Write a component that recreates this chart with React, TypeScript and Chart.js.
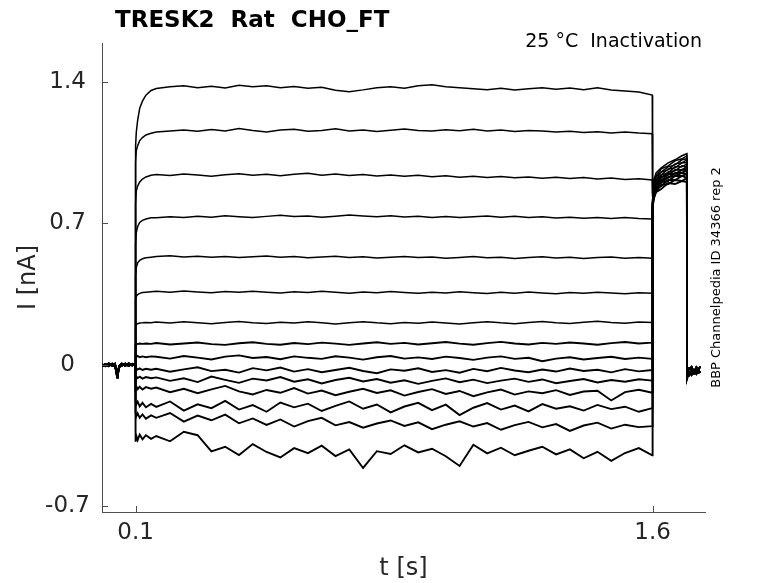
import React, { useEffect, useRef } from 'react';
import Chart from 'chart.js/auto';

// axis ticks
const xTicks = [0.1, 1.6];
const yTicks = [1.4, 0.7, 0, -0.7];

// holding segment before the step
const tPre = [0.003, 0.012, 0.022, 0.032, 0.04, 0.044, 0.0465, 0.049, 0.053, 0.06, 0.07, 0.08, 0.09, 0.0995];
const preA = [0.003, -0.006, 0.007, -0.004, 0.005, -0.02, -0.056, -0.03, -0.004, 0.006, -0.005, 0.007, -0.003, 0.004];
const preB = [-0.007, 0.004, -0.006, 0.006, -0.008, -0.03, -0.062, -0.042, -0.01, -0.004, 0.006, -0.005, 0.005, -0.005];

// step segment 0.1 .. 1.6 s
const tStep = [0.1, 0.102, 0.106, 0.112, 0.12, 0.13, 0.145, 0.16, 0.2, 0.24, 0.28, 0.32, 0.36, 0.4, 0.44, 0.48, 0.52, 0.56, 0.6, 0.64, 0.68, 0.72, 0.76, 0.8, 0.84, 0.88, 0.92, 0.96, 1.0, 1.04, 1.08, 1.12, 1.16, 1.2, 1.24, 1.28, 1.32, 1.36, 1.4, 1.44, 1.48, 1.52, 1.56, 1.599];
const step01 = [1.08, 1.15, 1.21, 1.27, 1.305, 1.335, 1.358, 1.368, 1.376, 1.381, 1.372, 1.379, 1.370, 1.384, 1.376, 1.381, 1.371, 1.378, 1.369, 1.374, 1.359, 1.352, 1.361, 1.372, 1.376, 1.369, 1.381, 1.386, 1.376, 1.371, 1.366, 1.362, 1.369, 1.360, 1.366, 1.372, 1.364, 1.370, 1.362, 1.371, 1.360, 1.356, 1.350, 1.335];
const step02 = [1.0, 1.06, 1.085, 1.11, 1.125, 1.138, 1.146, 1.152, 1.158, 1.163, 1.156, 1.165, 1.158, 1.170, 1.160, 1.153, 1.162, 1.166, 1.156, 1.160, 1.168, 1.158, 1.163, 1.155, 1.161, 1.167, 1.160, 1.157, 1.164, 1.159, 1.166, 1.158, 1.162, 1.155, 1.160, 1.158, 1.152, 1.156, 1.150, 1.154, 1.148, 1.152, 1.147, 1.144];
const step03 = [0.80, 0.86, 0.885, 0.905, 0.92, 0.93, 0.938, 0.942, 0.937, 0.945, 0.940, 0.934, 0.941, 0.946, 0.938, 0.943, 0.936, 0.944, 0.948, 0.939, 0.945, 0.937, 0.942, 0.935, 0.940, 0.933, 0.938, 0.931, 0.936, 0.929, 0.934, 0.927, 0.932, 0.926, 0.930, 0.924, 0.929, 0.922, 0.927, 0.920, 0.925, 0.918, 0.921, 0.915];
const step04 = [0.60, 0.655, 0.685, 0.705, 0.715, 0.722, 0.728, 0.728, 0.733, 0.729, 0.736, 0.731, 0.738, 0.733, 0.729, 0.735, 0.740, 0.734, 0.737, 0.731, 0.736, 0.742, 0.737, 0.733, 0.738, 0.732, 0.736, 0.730, 0.734, 0.729, 0.733, 0.737, 0.731, 0.735, 0.729, 0.733, 0.727, 0.731, 0.726, 0.730, 0.725, 0.729, 0.724, 0.722];
const step05 = [0.44, 0.48, 0.505, 0.518, 0.525, 0.53, 0.533, 0.536, 0.540, 0.534, 0.538, 0.533, 0.537, 0.531, 0.535, 0.539, 0.533, 0.536, 0.530, 0.534, 0.538, 0.532, 0.535, 0.529, 0.533, 0.537, 0.531, 0.534, 0.528, 0.532, 0.536, 0.530, 0.533, 0.527, 0.531, 0.535, 0.529, 0.533, 0.527, 0.531, 0.534, 0.528, 0.531, 0.528];
const step06 = [0.32, 0.338, 0.348, 0.354, 0.358, 0.36, 0.362, 0.364, 0.360, 0.366, 0.361, 0.357, 0.363, 0.359, 0.365, 0.360, 0.356, 0.362, 0.358, 0.364, 0.359, 0.355, 0.361, 0.357, 0.363, 0.358, 0.354, 0.360, 0.356, 0.362, 0.357, 0.353, 0.359, 0.355, 0.361, 0.356, 0.352, 0.358, 0.354, 0.360, 0.356, 0.352, 0.357, 0.355];
const step07 = [0.19, 0.2, 0.204, 0.207, 0.208, 0.21, 0.209, 0.212, 0.207, 0.213, 0.208, 0.204, 0.210, 0.215, 0.209, 0.205, 0.211, 0.207, 0.213, 0.208, 0.203, 0.209, 0.214, 0.208, 0.204, 0.210, 0.206, 0.212, 0.207, 0.203, 0.209, 0.214, 0.208, 0.204, 0.210, 0.215, 0.209, 0.205, 0.211, 0.216, 0.210, 0.206, 0.212, 0.210];
const step08 = [0.102, 0.105, 0.103, 0.106, 0.104, 0.106, 0.104, 0.108, 0.101, 0.106, 0.111, 0.103, 0.099, 0.107, 0.112, 0.104, 0.100, 0.108, 0.103, 0.110, 0.105, 0.099, 0.106, 0.112, 0.104, 0.109, 0.101, 0.107, 0.113, 0.105, 0.100, 0.108, 0.114, 0.106, 0.101, 0.109, 0.104, 0.111, 0.106, 0.100, 0.108, 0.113, 0.106, 0.110];
const step09 = [0.042, 0.039, 0.044, 0.038, 0.042, 0.038, 0.042, 0.040, 0.031, 0.044, 0.036, 0.027, 0.041, 0.047, 0.034, 0.039, 0.028, 0.042, 0.035, 0.030, 0.043, 0.036, 0.026, 0.038, 0.044, 0.031, 0.037, 0.029, 0.041, 0.034, 0.025, 0.036, 0.042, 0.030, 0.035, 0.018, 0.031, 0.038, 0.027, 0.034, 0.040, 0.029, 0.036, 0.030];
const step10 = [-0.02, -0.016, -0.023, -0.017, -0.025, -0.019, -0.024, -0.019, -0.034, -0.022, -0.012, -0.031, -0.024, -0.038, -0.016, -0.027, -0.013, -0.033, -0.021, -0.036, -0.025, -0.014, -0.030, -0.041, -0.022, -0.029, -0.017, -0.035, -0.026, -0.039, -0.020, -0.031, -0.015, -0.028, -0.036, -0.023, -0.033, -0.018, -0.030, -0.024, -0.037, -0.021, -0.032, -0.025];
const step11 = [-0.062, -0.056, -0.066, -0.058, -0.068, -0.06, -0.066, -0.062, -0.079, -0.066, -0.085, -0.058, -0.074, -0.089, -0.068, -0.077, -0.060, -0.083, -0.071, -0.092, -0.075, -0.064, -0.082, -0.070, -0.088, -0.076, -0.094, -0.079, -0.067, -0.086, -0.073, -0.090, -0.078, -0.068, -0.084, -0.072, -0.091, -0.080, -0.070, -0.087, -0.075, -0.083, -0.071, -0.078];
const step12 = [-0.115, -0.105, -0.12, -0.108, -0.122, -0.11, -0.118, -0.112, -0.135, -0.118, -0.140, -0.121, -0.104, -0.131, -0.146, -0.124, -0.138, -0.115, -0.142, -0.127, -0.150, -0.133, -0.118, -0.139, -0.126, -0.152, -0.134, -0.120, -0.144, -0.129, -0.155, -0.136, -0.122, -0.147, -0.131, -0.140, -0.125, -0.149, -0.132, -0.128, -0.176, -0.135, -0.123, -0.138];
const step13 = [-0.18, -0.195, -0.182, -0.205, -0.188, -0.21, -0.193, -0.208, -0.181, -0.226, -0.195, -0.214, -0.178, -0.221, -0.199, -0.232, -0.186, -0.210, -0.192, -0.228, -0.203, -0.181, -0.217, -0.196, -0.235, -0.206, -0.188, -0.224, -0.197, -0.248, -0.212, -0.189, -0.221, -0.201, -0.230, -0.194, -0.217, -0.205, -0.226, -0.198, -0.219, -0.207, -0.232, -0.214];
const step14 = [-0.235, -0.255, -0.24, -0.262, -0.245, -0.266, -0.25, -0.262, -0.238, -0.281, -0.251, -0.274, -0.246, -0.289, -0.265, -0.297, -0.270, -0.305, -0.278, -0.262, -0.299, -0.283, -0.311, -0.290, -0.275, -0.302, -0.284, -0.318, -0.296, -0.279, -0.305, -0.288, -0.321, -0.298, -0.282, -0.309, -0.293, -0.327, -0.300, -0.286, -0.315, -0.296, -0.308, -0.303];
const step15 = [-0.38, -0.35, -0.372, -0.345, -0.368, -0.348, -0.366, -0.352, -0.378, -0.331, -0.348, -0.428, -0.405, -0.446, -0.392, -0.431, -0.458, -0.412, -0.437, -0.400, -0.451, -0.418, -0.510, -0.427, -0.441, -0.398, -0.433, -0.415, -0.452, -0.500, -0.395, -0.438, -0.410, -0.447, -0.425, -0.405, -0.443, -0.418, -0.462, -0.430, -0.475, -0.436, -0.412, -0.448];

// tail after the step
const tTail = [1.6, 1.603, 1.61, 1.625, 1.645, 1.665, 1.685, 1.6995];
const tail01 = [0.85, 0.91, 0.95, 0.975, 1.0, 1.015, 1.035, 1.045];
const tail02 = [0.84, 0.895, 0.935, 0.97, 0.985, 1.01, 1.02, 1.035];
const tail03 = [0.83, 0.885, 0.93, 0.955, 0.98, 0.99, 1.015, 1.02];
const tail04 = [0.82, 0.88, 0.915, 0.955, 0.965, 0.995, 1.0, 1.015];
const tail05 = [0.815, 0.87, 0.915, 0.94, 0.97, 0.975, 1.0, 1.0];
const tail06 = [0.81, 0.87, 0.9, 0.94, 0.95, 0.98, 0.98, 0.995];
const tail07 = [0.80, 0.86, 0.905, 0.925, 0.955, 0.96, 0.985, 0.98];
const tail08 = [0.80, 0.855, 0.89, 0.93, 0.94, 0.965, 0.965, 0.98];
const tail09 = [0.795, 0.85, 0.895, 0.91, 0.945, 0.945, 0.965, 0.965];
const tail10 = [0.79, 0.845, 0.88, 0.915, 0.925, 0.95, 0.95, 0.965];
const tail11 = [0.79, 0.84, 0.885, 0.9, 0.93, 0.935, 0.95, 0.945];
const tail12 = [0.785, 0.835, 0.87, 0.905, 0.91, 0.935, 0.935, 0.945];
const tail13 = [0.78, 0.83, 0.875, 0.885, 0.915, 0.915, 0.935, 0.925];
const tail14 = [0.78, 0.825, 0.86, 0.89, 0.895, 0.915, 0.91, 0.925];
const tail15 = [0.775, 0.82, 0.855, 0.87, 0.9, 0.895, 0.91, 0.905];

// back at holding
const tPost = [1.7, 1.703, 1.707, 1.713, 1.72, 1.727, 1.733, 1.738];
const postA = [-0.065, -0.045, -0.035, -0.05, -0.03, -0.045, -0.028, -0.04];
const postB = [-0.06, -0.03, -0.048, -0.025, -0.042, -0.022, -0.038, -0.03];
const postC = [-0.07, -0.015, -0.02, -0.01, -0.035, -0.012, -0.025, -0.008];

const steps = [step01, step02, step03, step04, step05, step06, step07, step08, step09, step10, step11, step12, step13, step14, step15];
const tails = [tail01, tail02, tail03, tail04, tail05, tail06, tail07, tail08, tail09, tail10, tail11, tail12, tail13, tail14, tail15];
const pres = [preA, preB];
const posts = [postA, postB, postC];

const axisColor = '#4d4d4d';
const textColor = '#262626';
const font = "'DejaVu Sans', sans-serif";

const pairs = (ts: number[], vs: number[]) => ts.map((t, i) => ({ x: t, y: vs[i] }));

const decor = {
  id: 'decor',
  afterDraw(chart: any) {
    const { ctx, chartArea: a, scales } = chart;
    const x = scales.x;
    const y = scales.y;
    ctx.save();
    // inward tick marks
    ctx.strokeStyle = axisColor;
    ctx.lineWidth = 1;
    ctx.beginPath();
    yTicks.forEach((v) => {
      const py = Math.round(y.getPixelForValue(v)) + 0.5;
      ctx.moveTo(a.left, py);
      ctx.lineTo(a.left + 6, py);
    });
    xTicks.forEach((v) => {
      const px = Math.round(x.getPixelForValue(v)) + 0.5;
      ctx.moveTo(px, a.bottom);
      ctx.lineTo(px, a.bottom - 6);
    });
    ctx.stroke();

    ctx.fillStyle = '#000';
    ctx.textBaseline = 'alphabetic';
    ctx.font = `bold 23px ${font}`;
    ctx.textAlign = 'left';
    ctx.fillText('TRESK2  Rat  CHO_FT', 115, 27);

    ctx.font = `19px ${font}`;
    ctx.textAlign = 'right';
    ctx.fillText('25 °C  Inactivation', 702, 47);

    ctx.fillStyle = textColor;
    ctx.font = `24px ${font}`;
    ctx.textAlign = 'center';
    ctx.fillText('t [s]', (a.left + a.right) / 2, 575);

    ctx.save();
    ctx.translate(35, (a.top + a.bottom) / 2);
    ctx.rotate(-Math.PI / 2);
    ctx.fillText('I [nA]', 0, 0);
    ctx.restore();

    ctx.save();
    ctx.fillStyle = '#000';
    ctx.font = `13px ${font}`;
    ctx.translate(720, (a.top + a.bottom) / 2);
    ctx.rotate(-Math.PI / 2);
    ctx.fillText('BBP Channelpedia ID 34366 rep 2', 0, 0);
    ctx.restore();

    ctx.restore();
  },
};

const App: React.FC = () => {
  const chartRef = useRef<HTMLCanvasElement | null>(null);

  useEffect(() => {
    if (!chartRef.current) return;
    const ctx = chartRef.current.getContext('2d');
    if (!ctx) return;

    const datasets = steps.map((s, i) => ({
      data: [
        ...pairs(tPre, pres[i % 2]),
        ...pairs(tStep, s),
        ...pairs(tTail, tails[i]),
        ...pairs(tPost, posts[i % 3]),
      ],
      borderColor: '#000',
      borderWidth: i < 7 ? 1.5 : 1.9,
      pointRadius: 0,
      tension: 0,
      fill: false,
    }));

    const myChart = new Chart(ctx, {
      type: 'line',
      data: { datasets },
      plugins: [decor],
      options: {
        responsive: true,
        maintainAspectRatio: false,
        animation: false,
        devicePixelRatio: 1,
        parsing: false,
        normalized: true,
        layout: { padding: { top: 43, right: 73, left: 0, bottom: 0 } },
        plugins: {
          legend: { display: false },
          title: { display: false },
          tooltip: { enabled: false },
        },
        scales: {
          x: {
            type: 'linear',
            min: 0.0026,
            max: 1.752,
            grid: { display: false, drawTicks: false },
            border: { display: true, color: axisColor, width: 1 },
            afterBuildTicks: (s: any) => {
              s.ticks = xTicks.map((v) => ({ value: v }));
            },
            afterFit: (s: any) => {
              s.height = 71;
            },
            ticks: {
              autoSkip: false,
              maxRotation: 0,
              padding: 7,
              color: textColor,
              font: { family: font, size: 23 },
              callback: (v: any) => String(v),
            },
          },
          y: {
            type: 'linear',
            min: -0.728,
            max: 1.593,
            grid: { display: false, drawTicks: true, tickLength: 9 },
            border: { display: true, color: axisColor, width: 1 },
            afterBuildTicks: (s: any) => {
              s.ticks = yTicks.map((v) => ({ value: v }));
            },
            afterFit: (s: any) => {
              s.width = 102;
            },
            ticks: {
              autoSkip: false,
              crossAlign: 'center',
              color: textColor,
              font: { family: font, size: 23 },
              callback: (v: any) => String(v),
            },
          },
        },
      },
    });

    return () => {
      myChart.destroy();
    };
  }, []);

  return (
    <div style={{ position: 'absolute', left: 0, top: 0, width: 778, height: 583, background: '#fff' }}>
      <canvas ref={chartRef} />
    </div>
  );
};

export default App;
